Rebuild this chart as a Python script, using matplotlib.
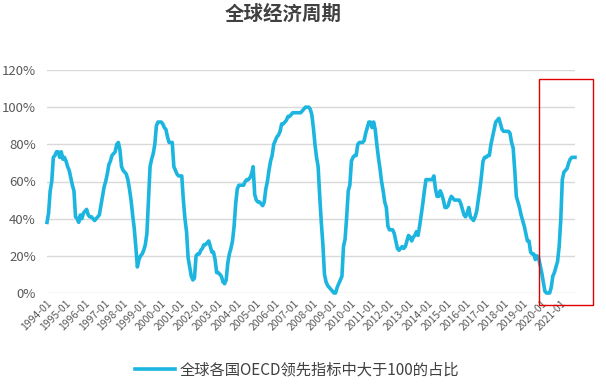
import matplotlib
matplotlib.use("Agg")
import matplotlib.pyplot as plt
from matplotlib.patches import Rectangle

plt.rcParams['font.family'] = ['Noto Sans CJK SC', 'DejaVu Sans']

title = "全球经济周期"
series_name = "全球各国OECD领先指标中大于100的占比"
start_year = 1994

# monthly share (%), 1994-01 .. 2021-10
share = [
    38, 43, 55, 60, 73, 74, 76, 76, 73, 76, 72, 73,   # 1994
    71, 68, 66, 62, 58, 55, 41, 40, 38, 42, 40, 43,   # 1995
    44, 45, 42, 41, 41, 40, 39, 40, 41, 42, 47, 52,   # 1996
    57, 60, 64, 69, 71, 74, 75, 76, 80, 81, 77, 68,   # 1997
    66, 65, 64, 61, 56, 50, 42, 35, 25, 14, 18, 20,   # 1998
    21, 23, 26, 32, 50, 68, 72, 75, 80, 90, 92, 92,   # 1999
    92, 91, 89, 88, 84, 81, 81, 81, 68, 66, 64, 63,   # 2000
    63, 63, 50, 40, 33, 19, 14, 9, 7, 8, 20, 21,      # 2001
    21, 23, 24, 26, 26, 27, 28, 25, 22, 22, 18, 11,   # 2002
    11, 10, 9, 6, 5, 7, 16, 21, 24, 28, 36, 48,       # 2003
    56, 58, 58, 58, 58, 60, 61, 61, 62, 64, 68, 53,   # 2004
    50, 49, 49, 48, 47, 49, 56, 60, 66, 71, 74, 80,   # 2005
    82, 84, 85, 87, 91, 91, 92, 93, 95, 95, 96, 97,   # 2006
    97, 97, 97, 97, 97, 98, 99, 100, 100, 100, 99, 96,  # 2007
    89, 80, 73, 68, 52, 38, 26, 10, 6, 4, 3, 2,       # 2008
    1, 0, 0, 3, 5, 7, 9, 25, 29, 41, 55, 58,          # 2009
    71, 73, 74, 74, 80, 81, 81, 81, 82, 86, 89, 92,   # 2010
    92, 89, 92, 88, 80, 73, 67, 60, 55, 49, 46, 36,   # 2011
    34, 34, 34, 32, 28, 24, 23, 24, 25, 24, 25, 28,   # 2012
    31, 30, 28, 30, 31, 33, 31, 36, 42, 48, 55, 61,   # 2013
    61, 61, 61, 61, 63, 56, 52, 52, 55, 53, 50, 46,   # 2014
    46, 47, 50, 52, 51, 50, 50, 50, 50, 48, 45, 42,   # 2015
    41, 43, 46, 41, 40, 39, 41, 44, 50, 56, 63, 71,   # 2016
    73, 73, 74, 74, 80, 84, 88, 92, 93, 94, 91, 88,   # 2017
    87, 87, 87, 87, 86, 81, 78, 66, 52, 49, 46, 42,   # 2018
    39, 36, 32, 28, 28, 22, 21, 21, 18, 20, 19, 15,   # 2019
    11, 6, 1, 0, 0, 0, 3, 9, 11, 14, 17, 25,          # 2020
    39, 61, 65, 66, 67, 70, 72, 73, 73, 73,           # 2021
]

year_ticks = list(range(1994, 2022))
yticks = [0, 20, 40, 60, 80, 100, 120]

fig = plt.figure(figsize=(6.06, 3.88), dpi=100)
ax = fig.add_axes([47 / 606, 1 - 293 / 388, 528 / 606, 223 / 388])

x = list(range(len(share)))
ax.plot(x, share, color="#1CB5E0", linewidth=2.6, label=series_name,
        clip_on=False, solid_joinstyle="round")

ax.set_xlim(0, len(share) - 1)
ax.set_ylim(0, 120)
ax.set_yticks(yticks)
ax.set_yticklabels([f"{v}%" for v in yticks])
ax.set_xticks([(y - start_year) * 12 for y in year_ticks])
ax.set_xticklabels([f"{y}-01" for y in year_ticks], rotation=45,
                   ha="right", rotation_mode="anchor")

ax.grid(axis="y", color="#D9D9D9", linewidth=1)
ax.set_axisbelow(True)
for s in ax.spines.values():
    s.set_visible(False)
ax.tick_params(axis="y", length=0, pad=8, labelsize=9.5, labelcolor="#595959")
ax.tick_params(axis="x", length=0, pad=4, labelsize=7.5, labelcolor="#595959")

fig.text(283 / 606, 1 - 14 / 388, title, ha="center", va="center",
         fontsize=14, fontweight="bold", color="#404040")

fig.legend(loc="center", bbox_to_anchor=(297 / 606, 1 - 370 / 388),
           frameon=False, fontsize=11, handlelength=2.6, handletextpad=0.3,
           labelcolor="#404040")

fig.patches.append(Rectangle((539 / 606, 1 - 305 / 388), 54 / 606, 226 / 388,
                             transform=fig.transFigure, fill=False,
                             edgecolor="#E00000", linewidth=1))

fig.savefig("out.png", dpi=100)
